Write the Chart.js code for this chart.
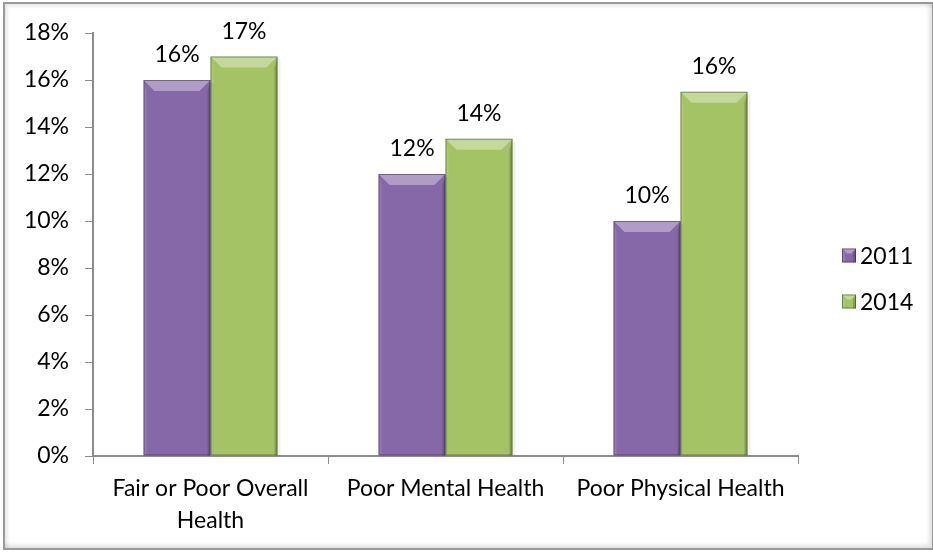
<!DOCTYPE html>
<html>
<head>
<meta charset="utf-8">
<script src="https://cdn.jsdelivr.net/npm/chart.js@4/dist/chart.umd.min.js"></script>
<style>
  html, body { margin: 0; padding: 0; background: #fff; }
  body { width: 933px; height: 552px; position: relative; overflow: hidden; }
  .frame {
    position: absolute; left: 3px; top: 2px; width: 927px; height: 544px;
    border: 2px solid #9a9a9a;
    box-shadow: inset -3px -3px 4px rgba(0,0,0,0.12), inset 3px 3px 3px rgba(0,0,0,0.08);
  }
  .chartBox { position: absolute; left: 0; top: 0; width: 933px; height: 552px; }
</style>
</head>
<body>
<div class="frame"></div>
<div class="chartBox"><canvas id="chart" width="933" height="552"></canvas></div>
<script>
// categories (x axis, multi-line labels)
const categories = [['Fair or Poor Overall', 'Health'], 'Poor Mental Health', 'Poor Physical Health'];
// series values, in percent
const values2011 = [16, 12, 10];
const values2014 = [17, 13.5, 15.5];
const seriesNames = ['2011', '2014'];
const yTicks = [0, 2, 4, 6, 8, 10, 12, 14, 16, 18];

const purple = '#8668a9';
const green = '#a3c364';
const font = "Lato, 'Open Sans', sans-serif";
const fontSize = 23;

// bevel shading for a box, Excel 2007 style
function bevel(ctx, l, t, r, b, d) {
  ctx.save();
  ctx.fillStyle = 'rgba(255,255,255,0.35)';
  ctx.beginPath();
  ctx.moveTo(l, t); ctx.lineTo(r, t); ctx.lineTo(r - d, t + d); ctx.lineTo(l + d, t + d);
  ctx.closePath(); ctx.fill();
  ctx.fillStyle = 'rgba(255,255,255,0.12)';
  ctx.beginPath();
  ctx.moveTo(l, t); ctx.lineTo(l + 3, t + d); ctx.lineTo(l + 3, b); ctx.lineTo(l, b);
  ctx.closePath(); ctx.fill();
  ctx.fillStyle = 'rgba(0,0,0,0.18)';
  ctx.beginPath();
  ctx.moveTo(r, t); ctx.lineTo(r - 3, t + d); ctx.lineTo(r - 3, b); ctx.lineTo(r, b);
  ctx.closePath(); ctx.fill();
  ctx.strokeStyle = 'rgba(0,0,0,0.35)';
  ctx.lineWidth = 1;
  ctx.strokeRect(l + 0.5, t + 0.5, r - l - 1, b - t - 1);
  ctx.restore();
}

const bevelPlugin = {
  id: 'bevel',
  afterDatasetsDraw(chart) {
    const ctx = chart.ctx;
    chart.data.datasets.forEach((ds, i) => {
      chart.getDatasetMeta(i).data.forEach((bar) => {
        const { x, y, base, width } = bar.getProps(['x', 'y', 'base', 'width'], true);
        // soft shadow on the right
        ctx.save();
        ctx.fillStyle = 'rgba(0,0,0,0.06)';
        ctx.fillRect(x + width / 2, y + 3, 3, base - y - 3);
        ctx.restore();
        bevel(ctx, x - width / 2, y, x + width / 2, base, 11);
      });
    });
  }
};

// value labels above the bars
const labelPlugin = {
  id: 'valueLabels',
  afterDatasetsDraw(chart) {
    const ctx = chart.ctx;
    ctx.save();
    ctx.font = fontSize + 'px ' + font;
    ctx.fillStyle = '#000';
    ctx.textAlign = 'center';
    ctx.textBaseline = 'middle';
    chart.data.datasets.forEach((ds, i) => {
      chart.getDatasetMeta(i).data.forEach((bar, j) => {
        ctx.fillText(Math.round(ds.data[j]) + '%', bar.x, bar.y - 25);
      });
    });
    ctx.restore();
  }
};

// legend to the right of the plot, vertically centred
const legendPlugin = {
  id: 'sideLegend',
  afterDraw(chart) {
    const ctx = chart.ctx;
    const area = chart.chartArea;
    const n = chart.data.datasets.length;
    const step = 46;
    const cy = (area.top + area.bottom) / 2 - (n - 1) * step / 2 + 34;
    ctx.save();
    ctx.font = fontSize + 'px ' + font;
    ctx.textBaseline = 'middle';
    chart.data.datasets.forEach((ds, i) => {
      const y = cy + i * step;
      const bx = area.right + 44, s = 14;
      ctx.fillStyle = ds.backgroundColor;
      ctx.fillRect(bx, y - s / 2, s, s);
      bevel(ctx, bx, y - s / 2, bx + s, y + s / 2, 5);
      ctx.fillStyle = '#000';
      ctx.fillText(ds.label, bx + s + 4, y + 1);
    });
    ctx.restore();
  }
};

new Chart(document.getElementById('chart'), {
  type: 'bar',
  data: {
    labels: categories,
    datasets: [
      { label: seriesNames[0], data: values2011, backgroundColor: purple, borderWidth: 0 },
      { label: seriesNames[1], data: values2014, backgroundColor: green, borderWidth: 0 },
    ],
  },
  options: {
    responsive: false,
    animation: false,
    devicePixelRatio: 1,
    layout: { padding: { left: 0, right: 135, top: 33, bottom: 0 } },
    datasets: { bar: { categoryPercentage: 0.57, barPercentage: 1.0 } },
    plugins: {
      legend: { display: false },
      tooltip: { enabled: false },
    },
    scales: {
      x: {
        afterFit: (axis) => { axis.height = 96; },
        grid: { drawOnChartArea: false, offset: true, tickLength: 8, color: '#8c8c8c' },
        border: { color: '#8c8c8c', width: 2 },
        ticks: { font: { size: fontSize, family: font, lineHeight: 1.4 }, color: '#000', padding: 8, maxRotation: 0 },
      },
      y: {
        min: 0, max: 18,
        afterFit: (axis) => { axis.width = 93; },
        afterBuildTicks: (axis) => { axis.ticks = yTicks.map((v) => ({ value: v })); },
        grid: { drawOnChartArea: false, tickLength: 8, color: '#8c8c8c' },
        border: { color: '#8c8c8c', width: 2 },
        ticks: { font: { size: fontSize, family: font }, color: '#000', padding: 16, callback: (v) => v + '%' },
      },
    },
  },
  plugins: [bevelPlugin, labelPlugin, legendPlugin],
});
</script>
</body>
</html>
